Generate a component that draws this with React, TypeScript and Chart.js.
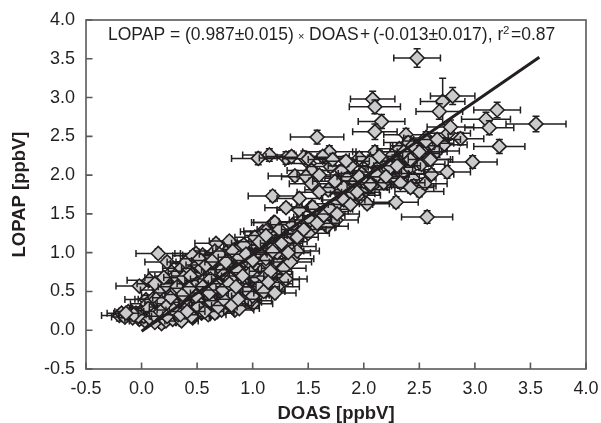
import React, { useEffect, useRef } from "react";
import { Chart, registerables } from "chart.js";

Chart.register(...registerables);

const doas = [
  2.48, 2.71, 2.8, 2.08, 2.1, 2.68, 3.2, 3.1, 3.13, 3.55,
  2.16, 2.1, 1.58, 2.38, 2.76, 2.87, 3.22, 2.98, 2.72, 2.66,
  2.56, 2.47, 2.53, 2.61, 2.78, 2.1, 2.37, 2.26, 2.25, 2.11,
  2.11, 2.29, 2.41, 2.44, 2.45, 2.5, 2.61, 2.75, 2.55, 2.29,
  2.57, 1.15, 1.05, 1.69, 1.63, 1.51, 1.53, 1.7, 1.8, 1.38,
  1.48, 1.53, 1.85, 1.68, 1.18, 1.95, 2.02, 2.03, 1.76, 1.42,
  1.53, 1.66, 1.59, 1.75, 1.67, 1.54, 1.19, 1.19, 1.42, 1.54,
  1.56, 1.57, 1.27, 1.19, 1.2, 1.09, 1.0, 1.14, 1.21, 1.36,
  2.2, 2.32, 2.4, 2.48, 2.52, 2.58, 2.34, 2.28, 2.18, 2.44,
  1.92, 1.98, 2.04, 2.12, 1.88, 1.96, 2.06, 1.74, 1.82, 1.9,
  1.3, 1.35, 1.46, 1.5, 1.6, 1.3, 1.42, 1.12, 1.28, 1.38,
  0.15, 0.23, 0.27, 0.07, -0.02, 0.04, 0.19, 0.28, 0.39, 0.49,
  0.55, 0.45, 0.61, 0.67, 0.79, 0.69, 0.51, 0.58, 0.67, 0.82,
  0.88, 1.0, 1.06, 0.97, 1.17, 1.24, 1.03, 0.96, 0.87, 0.73,
  0.58, 0.31, 0.18, 0.1, -0.2, -0.18, -0.15, -0.12, -0.1, -0.08,
  -0.05, -0.02, 0.01, 0.03, 0.06, 0.08, 0.12, 0.14, 0.17, 0.2,
  0.22, 0.25, 0.28, 0.32, 0.35, 0.38, 0.42, 0.46, 0.5, 0.54,
  0.6, 0.64, 0.68, 0.72, 0.76, 0.8, 0.84, 0.9, 0.95, 1.0,
  0.1, 0.16, 0.22, 0.28, 0.34, 0.4, 0.44, 0.48, 0.52, 0.56,
  0.6, 0.64, 0.7, 0.74, 0.78, 0.84, 0.88, 0.92, 0.98, 1.04,
  0.3, 0.36, 0.42, 0.48, 0.54, 0.6, 0.66, 0.72, 0.76, 0.8,
  0.86, 0.92, 0.98, 1.02, 1.08, 1.12, 1.16, 1.22, 1.28, 1.34,
  1.12, 1.18, 1.24, 1.3, 1.36, 1.1, 1.04, 1.44, 1.4, 1.5,
  0.05, 0.09, 0.13, 0.18, 0.24, 0.3, 0.34, 0.4, 0.44, 0.5,
  0.56, 0.62, 0.66, 0.7, 0.74, 0.82, 0.86, 0.94, 0.98, 1.02,
  0.12, 0.2, 0.26, 0.32, 0.38, 0.44, 0.5, 0.56, 0.62, 0.68,
  0.74, 0.8, 0.86, 0.92, 0.98, 1.04, 1.1, 1.16, 1.22, 1.3,
  0.4, 0.46, 0.52, 0.58, 0.64, 0.7, 0.76, 0.82, 0.88, 0.94,
  1.0, 1.06, 1.12, 1.18, 1.26, 1.32, 0.62, 0.7, 0.84, 0.92,
  0.02, 0.06, 0.14, 0.22, 0.3, 0.36, 0.46, 0.54, 0.6, 0.66,
  0.72, 0.78, 0.82, 0.88, 0.94, 1.0, 1.06, 1.1, 1.14, 1.2,
  1.4, 1.46, 1.52, 1.58, 1.64, 1.7, 1.76, 1.82, 1.88, 1.94,
  2.0, 2.06, 2.12, 2.18, 2.24, 2.3, 2.36, 2.42, 2.5, 2.56,
  1.6, 1.72, 1.84, 1.96, 2.14, 2.2, 2.33, 2.42, 2.6, 2.66,
  0.33, 0.39, 0.45, 0.51, 0.57, 0.63, 0.69, 0.75, 0.81, 0.87,
  0.37, 0.43, 0.49, 0.55, 0.61, 0.67, 0.73, 0.79, 0.85, 0.91,
  0.07, 0.11, 0.17, 0.23, 0.29, -0.03, -0.07, -0.14, 0.35, 0.41,
];
const lopap = [
  3.51, 2.95, 3.02, 2.98, 2.88, 2.82, 2.84, 2.72, 2.61, 2.66,
  2.69, 2.56, 2.49, 2.52, 2.54, 2.47, 2.37, 2.17, 2.39, 2.31,
  2.48, 2.37, 2.3, 2.41, 2.62, 2.3, 2.24, 2.26, 2.11, 2.11,
  1.91, 1.96, 2.07, 1.96, 1.86, 1.79, 2.01, 2.04, 1.89, 1.65,
  1.46, 2.26, 2.215, 2.3, 2.24, 2.15, 2.06, 2.11, 2.06, 1.99,
  1.98, 1.89, 1.96, 1.81, 1.73, 1.74, 1.81, 1.63, 1.63, 1.55,
  1.59, 1.53, 1.46, 1.42, 1.34, 1.32, 1.39, 1.24, 1.55, 1.59,
  1.33, 1.46, 1.18, 1.23, 1.39, 1.27, 1.12, 1.05, 0.9, 0.92,
  2.16, 2.34, 2.42, 2.28, 2.14, 2.2, 2.02, 2.18, 2.02, 2.38,
  1.92, 2.02, 1.88, 2.04, 2.12, 2.22, 2.18, 1.92, 1.84, 1.76,
  2.22, 2.24, 2.23, 2.21, 1.78, 1.58, 1.7, 1.14, 1.02, 1.08,
  0.99, 0.88, 0.75, 0.645, 0.57, 0.395, 0.45, 0.38, 0.515, 0.99,
  0.97, 0.86, 0.817, 1.12, 1.15, 0.94, 0.645, 0.515, 0.69, 0.645,
  0.817, 1.12, 0.99, 0.69, 0.6, 0.65, 0.43, 0.45, 0.32, 0.365,
  0.26, 0.15, 0.086, 0.15, 0.19, 0.22, 0.17, 0.24, 0.2, 0.16,
  0.22, 0.14, 0.26, 0.12, 0.3, 0.2, 0.1, 0.28, 0.18, 0.32,
  0.12, 0.24, 0.14, 0.2, 0.3, 0.18, 0.22, 0.16, 0.3, 0.22,
  0.2, 0.34, 0.24, 0.4, 0.3, 0.38, 0.26, 0.36, 0.44, 0.34,
  0.4, 0.52, 0.58, 0.48, 0.62, 0.42, 0.58, 0.48, 0.7, 0.4,
  0.56, 0.74, 0.5, 0.84, 0.6, 0.72, 0.48, 0.9, 0.62, 0.78,
  0.7, 0.8, 0.76, 0.88, 0.8, 0.92, 1.02, 0.78, 1.0, 0.9,
  1.04, 1.1, 0.86, 1.2, 0.76, 0.92, 0.72, 1.0, 0.8, 0.88,
  1.28, 1.1, 1.3, 1.14, 1.36, 0.52, 0.58, 1.4, 1.02, 1.25,
  0.34, 0.24, 0.4, 0.36, 0.26, 0.34, 0.26, 0.36, 0.28, 0.38,
  0.28, 0.3, 0.36, 0.28, 0.44, 0.3, 0.44, 0.46, 0.38, 0.52,
  0.6, 0.68, 0.42, 0.56, 0.68, 0.7, 0.6, 0.64, 0.66, 0.6,
  0.72, 0.66, 0.78, 0.62, 0.74, 0.66, 0.68, 0.76, 0.56, 0.66,
  0.88, 0.96, 0.92, 0.84, 0.9, 0.98, 0.88, 1.02, 0.94, 0.98,
  0.9, 1.14, 1.22, 1.02, 1.12, 1.0, 0.42, 0.34, 0.52, 0.56,
  0.18, 0.28, 0.22, 0.3, 0.22, 0.12, 0.18, 0.24, 0.32, 0.22,
  0.26, 0.34, 0.46, 0.28, 0.52, 0.44, 0.56, 0.5, 0.62, 0.48,
  1.2, 1.3, 1.42, 1.38, 1.48, 1.56, 1.5, 1.68, 1.62, 1.78,
  1.92, 1.88, 2.0, 1.9, 2.1, 2.12, 2.3, 2.2, 2.3, 2.44,
  2.0, 2.2, 2.18, 1.98, 2.24, 1.98, 1.9, 1.84, 2.2, 2.46,
  0.2, 0.26, 0.18, 0.3, 0.24, 0.36, 0.3, 0.38, 0.32, 0.4,
  0.46, 0.54, 0.44, 0.56, 0.48, 0.56, 0.52, 0.6, 0.56, 0.7,
  0.16, 0.2, 0.24, 0.18, 0.26, 0.18, 0.2, 0.22, 0.2, 0.24,
];
const doasErr = [
  0.21, 0.2, 0.2, 0.2, 0.23, 0.21, 0.21, 0.22, 0.22, 0.27,
  0.21, 0.2, 0.24, 0.2, 0.2, 0.21, 0.23, 0.22, 0.21, 0.2,
  0.2, 0.21, 0.22, 0.2, 0.21, 0.2, 0.22, 0.2, 0.21, 0.2,
  0.2, 0.21, 0.2, 0.21, 0.2, 0.22, 0.2, 0.21, 0.2, 0.2,
  0.23, 0.24, 0.24, 0.24, 0.24, 0.22, 0.22, 0.21, 0.22, 0.24,
  0.22, 0.2, 0.2, 0.21, 0.22, 0.2, 0.21, 0.2, 0.2, 0.2,
  0.2, 0.2, 0.19, 0.2, 0.19, 0.2, 0.2, 0.21, 0.2, 0.19,
  0.19, 0.2, 0.19, 0.2, 0.19, 0.2, 0.19, 0.2, 0.19, 0.19,
  0.21, 0.2, 0.22, 0.2, 0.21, 0.2, 0.21, 0.2, 0.22, 0.2,
  0.2, 0.21, 0.2, 0.22, 0.2, 0.21, 0.2, 0.2, 0.21, 0.2,
  0.24, 0.23, 0.24, 0.23, 0.2, 0.19, 0.2, 0.19, 0.18, 0.19,
  0.2, 0.2, 0.21, 0.2, 0.21, 0.19, 0.19, 0.18, 0.19, 0.19,
  0.18, 0.19, 0.18, 0.19, 0.18, 0.18, 0.19, 0.18, 0.18, 0.19,
  0.18, 0.19, 0.18, 0.18, 0.19, 0.18, 0.18, 0.19, 0.18, 0.18,
  0.17, 0.17, 0.16, 0.16, 0.16, 0.13, 0.12, 0.12, 0.11, 0.12,
  0.12, 0.13, 0.12, 0.14, 0.15, 0.14, 0.15, 0.14, 0.15, 0.15,
  0.15, 0.16, 0.15, 0.16, 0.15, 0.16, 0.15, 0.16, 0.15, 0.16,
  0.16, 0.17, 0.16, 0.17, 0.16, 0.18, 0.17, 0.18, 0.17, 0.18,
  0.16, 0.17, 0.16, 0.17, 0.16, 0.17, 0.16, 0.17, 0.18, 0.17,
  0.17, 0.18, 0.17, 0.18, 0.17, 0.18, 0.18, 0.18, 0.19, 0.18,
  0.18, 0.17, 0.18, 0.17, 0.18, 0.18, 0.19, 0.18, 0.19, 0.18,
  0.19, 0.18, 0.19, 0.18, 0.19, 0.19, 0.2, 0.19, 0.2, 0.19,
  0.2, 0.19, 0.2, 0.19, 0.2, 0.19, 0.19, 0.2, 0.2, 0.19,
  0.15, 0.14, 0.16, 0.15, 0.16, 0.16, 0.17, 0.16, 0.17, 0.16,
  0.17, 0.16, 0.18, 0.17, 0.18, 0.17, 0.18, 0.18, 0.19, 0.18,
  0.16, 0.17, 0.16, 0.17, 0.18, 0.17, 0.18, 0.17, 0.18, 0.17,
  0.18, 0.17, 0.19, 0.18, 0.19, 0.18, 0.19, 0.19, 0.2, 0.19,
  0.17, 0.18, 0.17, 0.18, 0.19, 0.18, 0.19, 0.18, 0.19, 0.19,
  0.19, 0.2, 0.19, 0.2, 0.19, 0.2, 0.18, 0.19, 0.18, 0.19,
  0.13, 0.14, 0.15, 0.15, 0.16, 0.15, 0.16, 0.16, 0.17, 0.17,
  0.17, 0.18, 0.17, 0.18, 0.18, 0.19, 0.18, 0.19, 0.18, 0.19,
  0.19, 0.2, 0.19, 0.2, 0.19, 0.2, 0.2, 0.19, 0.2, 0.2,
  0.2, 0.21, 0.2, 0.21, 0.2, 0.21, 0.22, 0.21, 0.2, 0.21,
  0.2, 0.22, 0.21, 0.2, 0.21, 0.2, 0.22, 0.21, 0.2, 0.21,
  0.16, 0.17, 0.16, 0.17, 0.17, 0.18, 0.17, 0.18, 0.18, 0.19,
  0.16, 0.17, 0.17, 0.18, 0.17, 0.18, 0.18, 0.19, 0.18, 0.19,
  0.14, 0.15, 0.15, 0.16, 0.15, 0.12, 0.11, 0.11, 0.16, 0.16,
];
const lopapErr = [
  0.12, 0.3, 0.11, 0.1, 0.09, 0.1, 0.1, 0.09, 0.09, 0.1,
  0.09, 0.1, 0.09, 0.08, 0.09, 0.08, 0.09, 0.08, 0.08, 0.08,
  0.08, 0.07, 0.08, 0.08, 0.09, 0.08, 0.08, 0.07, 0.08, 0.07,
  0.07, 0.08, 0.07, 0.07, 0.08, 0.07, 0.07, 0.08, 0.07, 0.07,
  0.08, 0.08, 0.08, 0.08, 0.07, 0.07, 0.07, 0.07, 0.07, 0.07,
  0.07, 0.07, 0.07, 0.06, 0.07, 0.06, 0.07, 0.06, 0.06, 0.06,
  0.06, 0.06, 0.07, 0.06, 0.06, 0.06, 0.06, 0.06, 0.06, 0.06,
  0.06, 0.06, 0.06, 0.05, 0.06, 0.05, 0.05, 0.06, 0.05, 0.05,
  0.08, 0.07, 0.08, 0.07, 0.08, 0.07, 0.07, 0.08, 0.07, 0.08,
  0.07, 0.07, 0.06, 0.07, 0.08, 0.07, 0.08, 0.06, 0.07, 0.06,
  0.08, 0.07, 0.08, 0.07, 0.06, 0.06, 0.07, 0.05, 0.05, 0.05,
  0.06, 0.06, 0.05, 0.05, 0.05, 0.05, 0.05, 0.04, 0.05, 0.06,
  0.05, 0.05, 0.05, 0.06, 0.06, 0.05, 0.05, 0.04, 0.05, 0.05,
  0.05, 0.06, 0.05, 0.05, 0.05, 0.05, 0.04, 0.05, 0.04, 0.05,
  0.05, 0.05, 0.06, 0.05, 0.07, 0.06, 0.06, 0.05, 0.06, 0.05,
  0.06, 0.05, 0.06, 0.05, 0.06, 0.05, 0.05, 0.06, 0.05, 0.06,
  0.05, 0.06, 0.05, 0.05, 0.06, 0.05, 0.05, 0.06, 0.05, 0.05,
  0.05, 0.05, 0.05, 0.06, 0.05, 0.05, 0.05, 0.05, 0.06, 0.05,
  0.05, 0.05, 0.06, 0.05, 0.05, 0.05, 0.05, 0.06, 0.05, 0.05,
  0.05, 0.06, 0.05, 0.05, 0.05, 0.06, 0.05, 0.06, 0.05, 0.05,
  0.05, 0.06, 0.05, 0.05, 0.06, 0.05, 0.05, 0.05, 0.06, 0.05,
  0.05, 0.06, 0.05, 0.06, 0.05, 0.05, 0.05, 0.06, 0.05, 0.05,
  0.06, 0.05, 0.06, 0.05, 0.06, 0.05, 0.05, 0.06, 0.05, 0.06,
  0.05, 0.06, 0.05, 0.05, 0.06, 0.05, 0.05, 0.06, 0.05, 0.05,
  0.05, 0.06, 0.05, 0.05, 0.06, 0.05, 0.05, 0.05, 0.06, 0.05,
  0.05, 0.06, 0.05, 0.05, 0.06, 0.05, 0.05, 0.06, 0.05, 0.05,
  0.06, 0.05, 0.05, 0.06, 0.05, 0.05, 0.06, 0.05, 0.05, 0.06,
  0.05, 0.06, 0.05, 0.05, 0.06, 0.05, 0.05, 0.06, 0.05, 0.06,
  0.05, 0.06, 0.06, 0.05, 0.06, 0.05, 0.05, 0.05, 0.06, 0.05,
  0.05, 0.06, 0.05, 0.06, 0.05, 0.05, 0.06, 0.05, 0.05, 0.06,
  0.05, 0.06, 0.05, 0.05, 0.06, 0.05, 0.06, 0.05, 0.05, 0.06,
  0.06, 0.06, 0.07, 0.06, 0.06, 0.07, 0.06, 0.07, 0.06, 0.07,
  0.07, 0.06, 0.07, 0.07, 0.08, 0.07, 0.08, 0.07, 0.08, 0.08,
  0.07, 0.08, 0.07, 0.07, 0.08, 0.07, 0.07, 0.07, 0.08, 0.08,
  0.05, 0.05, 0.06, 0.05, 0.05, 0.06, 0.05, 0.05, 0.06, 0.05,
  0.05, 0.06, 0.05, 0.05, 0.06, 0.05, 0.05, 0.06, 0.05, 0.05,
  0.05, 0.06, 0.05, 0.05, 0.06, 0.06, 0.05, 0.06, 0.05, 0.05,
];
const fitX = [0, 3.58];
const fitY = [-0.013, 3.52];
const xTitle = "DOAS [ppbV]";
const yTitle = "LOPAP [ppbV]";
const fitLabelParts = [
  { text: "LOPAP = (0.987\u00b10.015)", at: 108, size: 17.5, rise: 0 },
  { text: "\u00d7", at: 298, size: 11, rise: 0 },
  { text: "DOAS", at: 309, size: 17.5, rise: 0 },
  { text: "+", at: 360, size: 17.5, rise: 0 },
  { text: "(-0.013\u00b10.017), r", at: 373, size: 17.5, rise: 0 },
  { text: "2", at: 503, size: 11.5, rise: 6 },
  { text: "=0.87", at: 511, size: 17.5, rise: 0 },
];

const INK = "#231f20";

const errorBars = {
  id: "errorBars",
  beforeDatasetDraw(chart: any, args: any) {
    const i = args.index;
    if (i >= doas.length) return;
    const { x, y } = chart.scales;
    const ctx = chart.ctx;
    const px = x.getPixelForValue(doas[i]);
    const py = y.getPixelForValue(lopap[i]);
    const l = x.getPixelForValue(doas[i] - doasErr[i]);
    const r = x.getPixelForValue(doas[i] + doasErr[i]);
    const t = y.getPixelForValue(lopap[i] + lopapErr[i]);
    const b = y.getPixelForValue(lopap[i] - lopapErr[i]);
    const cap = 3.5;
    ctx.save();
    ctx.strokeStyle = INK;
    ctx.lineWidth = 1.5;
    ctx.beginPath();
    ctx.moveTo(l, py); ctx.lineTo(r, py);
    ctx.moveTo(l, py - cap); ctx.lineTo(l, py + cap);
    ctx.moveTo(r, py - cap); ctx.lineTo(r, py + cap);
    ctx.moveTo(px, t); ctx.lineTo(px, b);
    ctx.moveTo(px - cap, t); ctx.lineTo(px + cap, t);
    ctx.moveTo(px - cap, b); ctx.lineTo(px + cap, b);
    ctx.stroke();
    ctx.restore();
  },
};

const frame = {
  id: "frame",
  afterDraw(chart: any) {
    const { ctx, chartArea: a, scales } = chart;
    ctx.save();
    ctx.strokeStyle = "#58595b";
    ctx.lineWidth = 1.6;
    ctx.strokeRect(a.left, a.top, a.right - a.left, a.bottom - a.top);
    ctx.beginPath();
    scales.x.ticks.forEach((_: any, i: number) => {
      const p = scales.x.getPixelForTick(i);
      ctx.moveTo(p, a.bottom); ctx.lineTo(p, a.bottom - 6.5);
    });
    scales.y.ticks.forEach((_: any, i: number) => {
      const p = scales.y.getPixelForTick(i);
      ctx.moveTo(a.left, p); ctx.lineTo(a.left + 6.5, p);
    });
    ctx.stroke();
    ctx.fillStyle = INK;
    ctx.textAlign = "left";
    ctx.textBaseline = "alphabetic";
    fitLabelParts.forEach((p) => {
      ctx.font = `${p.size}px "Liberation Sans"`;
      ctx.fillText(p.text, p.at, 40 - p.rise);
    });
    ctx.restore();
  },
};

export default function App() {
  const ref = useRef<HTMLCanvasElement>(null);
  useEffect(() => {
    document.body.style.margin = "0";
    const points = doas.map((d, i) => ({
      type: "scatter" as const,
      data: [{ x: d, y: lopap[i] }],
      order: doas.length - i + 1,
      pointStyle: "rectRot",
      pointRadius: 7,
      backgroundColor: "#c9cbcc",
      borderColor: INK,
      borderWidth: 1.6,
    }));
    const fit = {
      type: "line" as const,
      data: fitX.map((x, i) => ({ x, y: fitY[i] })),
      order: 0,
      borderColor: INK,
      borderWidth: 3,
      pointRadius: 0,
      parsing: false,
    };
    const tickFont = { family: "Liberation Sans", size: 18 };
    const titleFont = { family: "Liberation Sans", size: 18.5, weight: "bold" as const };
    const axis = {
      type: "linear" as const,
      min: -0.5,
      max: 4,
      grid: { drawOnChartArea: false, drawTicks: false },
      border: { display: false },
    };
    const chart = new Chart(ref.current!, {
      type: "scatter",
      data: { datasets: [...points, fit] as any },
      plugins: [errorBars, frame],
      options: {
        animation: false,
        responsive: false,
        layout: { padding: { top: 20, right: 15, left: 0, bottom: 0 } },
        plugins: { legend: { display: false }, tooltip: { enabled: false } },
        scales: {
          x: {
            ...axis,
            afterFit: (s: any) => { s.height = 54; s.paddingRight = 0; s.paddingLeft = 0; },
            ticks: {
              stepSize: 0.5, padding: 9, color: INK, font: tickFont, maxRotation: 0,
              callback: (v: any) => Number(v).toFixed(1),
            },
            title: { display: true, text: xTitle, color: INK, font: titleFont, padding: { top: 0, bottom: -2 } },
          },
          y: {
            ...axis,
            afterFit: (s: any) => { s.width = 86; s.paddingTop = 0; s.paddingBottom = 0; },
            ticks: {
              stepSize: 0.5, padding: 11, color: INK, font: tickFont,
              callback: (v: any) => Number(v).toFixed(1),
            },
            title: { display: true, text: yTitle, color: INK, font: titleFont, padding: { top: 9, bottom: 0 } },
          },
        },
      },
    });
    return () => chart.destroy();
  }, []);
  return <canvas ref={ref} width={601} height={423} style={{ display: "block" }} />;
}
